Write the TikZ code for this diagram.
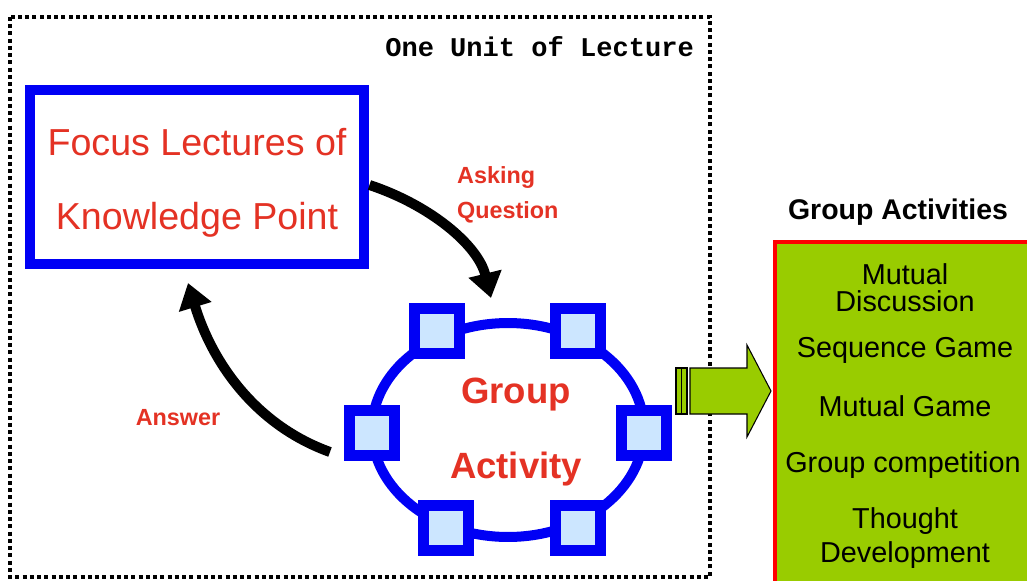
\documentclass[tikz,border=0pt]{standalone}
\usepackage{fontspec}
\setmainfont{Liberation Sans}
\setmonofont{Liberation Mono}
\usetikzlibrary{arrows.meta,shapes.geometric}
\definecolor{txtred}{RGB}{228,50,36}
\definecolor{seatblue}{RGB}{204,230,255}
\definecolor{actgreen}{RGB}{153,204,0}
\definecolor{ringblue}{RGB}{0,0,245}

\begin{document}
\begin{tikzpicture}[x=0.02cm,y=-0.02cm,
    seat/.style={draw=ringblue,fill=seatblue,line width=0.22cm,minimum size=0.9cm,inner sep=0pt},
    bigarrow/.style={line width=0.2cm,-{Triangle[length=0.5cm,width=0.65cm]}},
    redlabel/.style={text=txtred,font=\bfseries\fontsize{13.3}{19.8}\selectfont},
    item/.style={font=\fontsize{16.4}{15.3}\selectfont,align=center}]
    \useasboundingbox (0,0) rectangle (1027,581);
    \fill[white] (0,0) rectangle (1027,581);

    \draw[line width=0.09cm,dash pattern=on 0.08cm off 0.065cm] (10,17) rectangle (710,577);
    \node[anchor=east,font=\ttfamily\bfseries\fontsize{15.4}{18}\selectfont] (unit) at (700,47) {One Unit of Lecture};

    \node[draw=ringblue,line width=0.2cm,minimum width=6.7cm,minimum height=3.5cm,align=center,
          text=txtred,font=\fontsize{21.4}{42}\selectfont] (focus) at (197,177) {};
    \node[align=center,text=txtred,font=\fontsize{21.4}{42}\selectfont] (focustxt) at (197,183) {Focus Lectures of\\Knowledge Point};

    % the group sitting round the table
    \node[ellipse,draw=ringblue,line width=0.2cm,minimum width=5.44cm,minimum height=4.28cm] (ring) at (508,430) {};
    \foreach \p [count=\i] in {(437,331),(578,331),(372,433),(644,433),(446,528),(578,528)}
      \node[seat] (s\i) at \p {};
    \node[align=center,text=txtred,font=\bfseries\fontsize{20.8}{42.5}\selectfont] (grp) at (516,432) {Group\\Activity};

    \coordinate (askend) at (491,298);
    \coordinate (ansstart) at (330,452);
    \coordinate (ansend) at (188,283);
    \draw[bigarrow] ([yshift=-0.16cm]focus.east) .. controls (430,205) and (478,245) .. (askend);
    \draw[bigarrow] (ansstart) .. controls (255,425) and (212,362) .. (ansend);
    \node[redlabel,anchor=west,align=left] (ask) at (451,195) {Asking\\Question};
    \node[redlabel] (ans) at (178,418) {Answer};

    % block arrow out of the lecture
    \draw[fill=actgreen,line width=0.6pt] (676,368) rectangle (687,414);
    \draw[line width=0.6pt] (681.5,368) -- (681.5,414);
    \draw[fill=actgreen,line width=0.6pt] (690,368) -- (747,368) -- (747,345) -- (771,391)
      -- (747,437) -- (747,414) -- (690,414) -- cycle;

    \fill[actgreen] (775,242) rectangle (1027,581);
    \draw[red,line width=0.08cm] (775,590) |- (1040,242);
    \node[font=\bfseries\fontsize{16.2}{18}\selectfont] (acts) at (898,212) {Group Activities};
    \node[item] (g1) at (905,288) {Mutual\\Discussion};
    \node[item] (g2) at (905,350) {Sequence Game};
    \node[item] (g3) at (905,406) {Mutual Game};
    \node[item] (g4) at (903,465) {Group competition};
    \node[item,font=\fontsize{16.4}{19.8}\selectfont] (g5) at (905,538) {Thought\\Development};
\end{tikzpicture}
\end{document}
